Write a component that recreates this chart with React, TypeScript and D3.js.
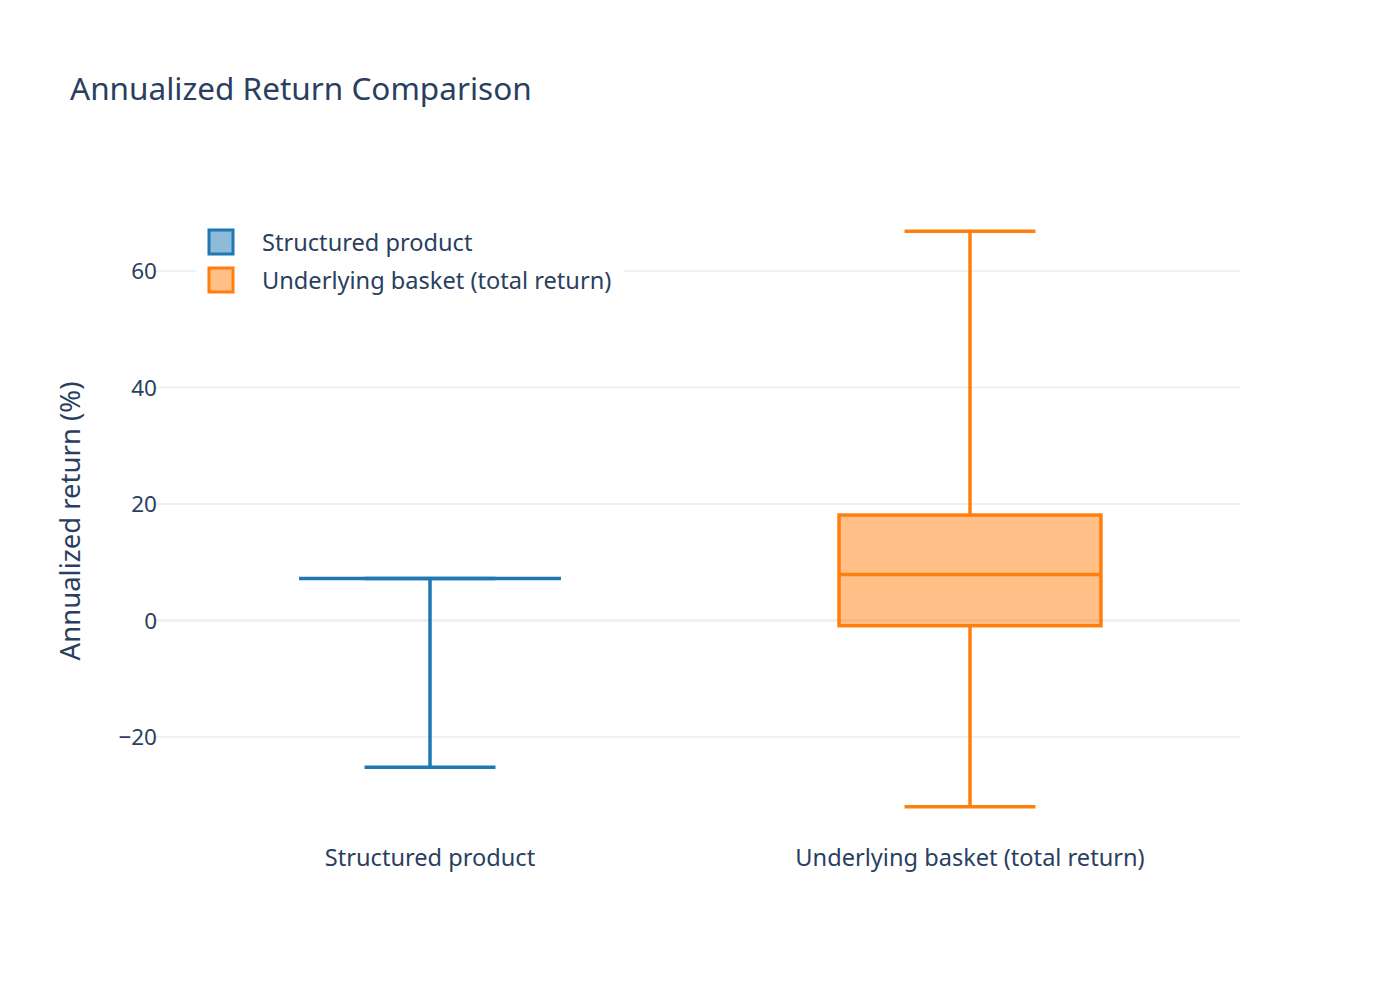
import { scaleLinear, scaleBand } from "d3";

const categories = ["Structured product", "Underlying basket (total return)"];
const colors = ["#1f77b4", "#ff7f0e"];
// box stats: lower fence, q1, median, q3, upper fence
const lowerFence = [-25.2, -32.0];
const q1 = [7.2, -0.9];
const median = [7.2, 7.9];
const q3 = [7.2, 18.1];
const upperFence = [7.2, 66.8];
const yTicks = [-20, 0, 20, 40, 60];

const W = 1400;
const H = 1000;
const margin = { left: 160, right: 160, top: 203.4, bottom: 164.6 };
const FONT = "'Source Sans Pro', 'Noto Sans', sans-serif";
const TEXT = "#2a3f5f";
const GRID = "#e9edf5";

export default function App() {
  const x = scaleBand<string>()
    .domain(categories)
    .range([margin.left, W - margin.right]);
  const y = scaleLinear()
    .domain([-36.9, 71.6])
    .range([H - margin.bottom, margin.top]);
  const bw = x.bandwidth() * 0.485;
  const cw = bw / 2;

  return (
    <svg width={W} height={H} style={{ position: "absolute", left: 0, top: 0, background: "#fff" }} fontFamily={FONT}>
      <text x={70} y={100} fontSize={31.5} fill={TEXT}>
        Annualized Return Comparison
      </text>

      {/* grid + ticks */}
      {yTicks.map((t) => (
        <g key={t}>
          <line x1={margin.left - 5} x2={W - margin.right} y1={y(t)} y2={y(t)} stroke={GRID} strokeWidth={t === 0 ? 2.5 : 1.5} />
          <text x={margin.left - 3} y={y(t)} dy="0.36em" textAnchor="end" fontSize={22.5} fill={TEXT}>
            {t < 0 ? `\u2212${Math.abs(t)}` : t}
          </text>
        </g>
      ))}

      <text
        transform={`translate(80,521) rotate(-90)`}
        textAnchor="middle"
        fontSize={27.5}
        fill={TEXT}
      >
        Annualized return (%)
      </text>

      {categories.map((c, i) => {
        const cx = (x(c) ?? 0) + x.bandwidth() / 2;
        return (
          <g key={c}>
            <text x={cx} y={866} textAnchor="middle" fontSize={23.6} fill={TEXT}>
              {c}
            </text>
            <line x1={cx} x2={cx} y1={y(q3[i])} y2={y(upperFence[i])} stroke={colors[i]} strokeWidth={3.5} />
            <line x1={cx} x2={cx} y1={y(q1[i])} y2={y(lowerFence[i])} stroke={colors[i]} strokeWidth={3.5} />
            <line x1={cx - cw / 2} x2={cx + cw / 2} y1={y(upperFence[i])} y2={y(upperFence[i])} stroke={colors[i]} strokeWidth={3.5} />
            <line x1={cx - cw / 2} x2={cx + cw / 2} y1={y(lowerFence[i])} y2={y(lowerFence[i])} stroke={colors[i]} strokeWidth={3.5} />
            <rect
              x={cx - bw / 2}
              y={y(q3[i])}
              width={bw}
              height={Math.max(0, y(q1[i]) - y(q3[i]))}
              fill={colors[i]}
              fillOpacity={0.5}
              stroke={colors[i]}
              strokeWidth={3.5}
            />
            <line x1={cx - bw / 2} x2={cx + bw / 2} y1={y(median[i])} y2={y(median[i])} stroke={colors[i]} strokeWidth={3.5} />
          </g>
        );
      })}

      {/* legend */}
      <rect x={196} y={216} width={428} height={84} fill="#fff" />
      {categories.map((c, i) => (
        <g key={c} transform={`translate(0,${242 + i * 38})`}>
          <rect x={209} y={-12} width={24} height={24} fill={colors[i]} fillOpacity={0.5} stroke={colors[i]} strokeWidth={3} />
          <text x={262} y={0} dy="0.36em" fontSize={23.6} fill={TEXT}>
            {c}
          </text>
        </g>
      ))}
    </svg>
  );
}
